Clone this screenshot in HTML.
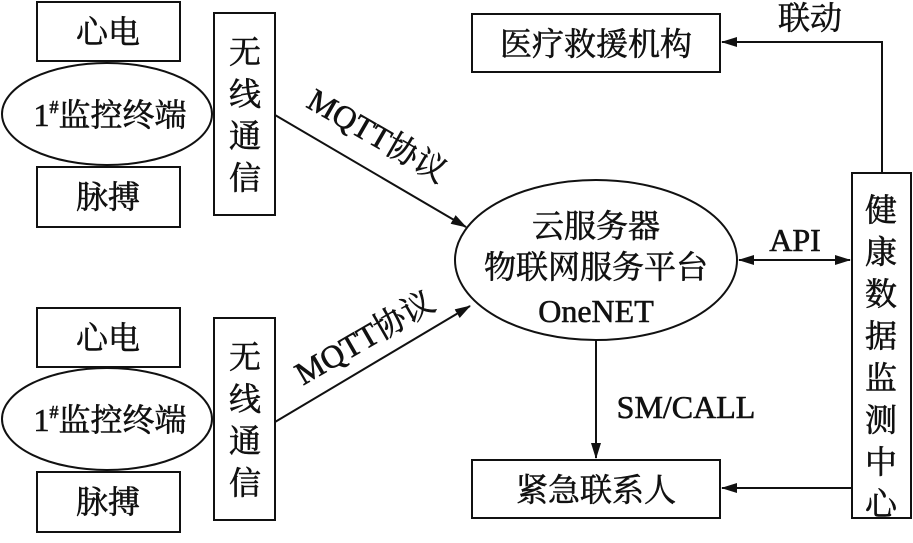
<!DOCTYPE html>
<html><head><meta charset="utf-8"><style>
body{margin:0;background:#fff}
svg text{font-family:"Liberation Serif","Noto Serif CJK SC",serif;fill:#111;stroke:#111;stroke-width:0.6}
</style></head><body>
<svg width="913" height="538" viewBox="0 0 913 538" xmlns="http://www.w3.org/2000/svg">
<defs><marker id="a" markerWidth="16" markerHeight="10" refX="15" refY="5" orient="auto" markerUnits="userSpaceOnUse"><path d="M0,0 L16,5 L0,10 Z" fill="#111"/></marker>
<marker id="b" markerWidth="16" markerHeight="10" refX="1" refY="5" orient="auto" markerUnits="userSpaceOnUse"><path d="M16,0 L0,5 L16,10 Z" fill="#111"/></marker></defs>
<g fill="none" stroke="#111" stroke-width="2">
<rect x="37" y="2" width="143" height="59"/>
<ellipse cx="107" cy="114" rx="105" ry="51"/>
<rect x="37" y="167" width="143" height="60"/>
<rect x="214" y="13" width="61" height="202"/>
<rect x="37" y="308" width="143" height="59"/>
<ellipse cx="107" cy="419" rx="105" ry="51"/>
<rect x="37" y="472" width="143" height="60"/>
<rect x="214" y="318" width="61" height="202"/>
<rect x="472" y="14" width="248" height="58"/>
<rect x="472" y="460" width="248" height="58"/>
<rect x="852" y="173" width="59" height="345"/>
<ellipse cx="596" cy="260" rx="141" ry="80"/>
<line x1="275" y1="115" x2="466" y2="227" marker-end="url(#a)"/>
<line x1="275" y1="422" x2="470" y2="306" marker-end="url(#a)"/>
<polyline points="882,173 882,42 722,42" marker-end="url(#a)"/>
<line x1="739" y1="260" x2="850" y2="260" marker-start="url(#b)" marker-end="url(#a)"/>
<line x1="596" y1="340" x2="596" y2="458" marker-end="url(#a)"/>
<line x1="852" y1="488" x2="722" y2="488" marker-end="url(#a)"/>
</g>
<g font-size="32" text-anchor="middle">
<text x="108" y="43">心电</text>
<text x="108" y="208">脉搏</text>
<text x="108" y="349">心电</text>
<text x="108" y="513">脉搏</text>
<text x="110" y="126">1<tspan font-size="18" dy="-13">#</tspan><tspan dy="13">监控终端</tspan></text>
<text x="110" y="431">1<tspan font-size="18" dy="-13">#</tspan><tspan dy="13">监控终端</tspan></text>
<text x="245" y="63">无</text><text x="245" y="105">线</text><text x="245" y="147">通</text><text x="245" y="189">信</text>
<text x="245" y="368">无</text><text x="245" y="410">线</text><text x="245" y="452">通</text><text x="245" y="494">信</text>
<text x="596" y="55">医疗救援机构</text>
<text x="596" y="501">紧急联系人</text>
<text x="810" y="29">联动</text>
<text x="596" y="237">云服务器</text>
<text x="596" y="278">物联网服务平台</text>
<text x="596" y="322">OneNET</text>
<text x="795" y="251">API</text>
<text x="686" y="418">SM/CALL</text>
<text x="881" y="221">健</text><text x="881" y="263">康</text><text x="881" y="305">数</text><text x="881" y="347">据</text><text x="881" y="389">监</text><text x="881" y="431">测</text><text x="881" y="473">中</text><text x="881" y="515">心</text>
<text transform="translate(372,145) rotate(30)">MQTT协议</text>
<text transform="translate(370,347) rotate(-30)">MQTT协议</text>
</g>
</svg>
</body></html>
